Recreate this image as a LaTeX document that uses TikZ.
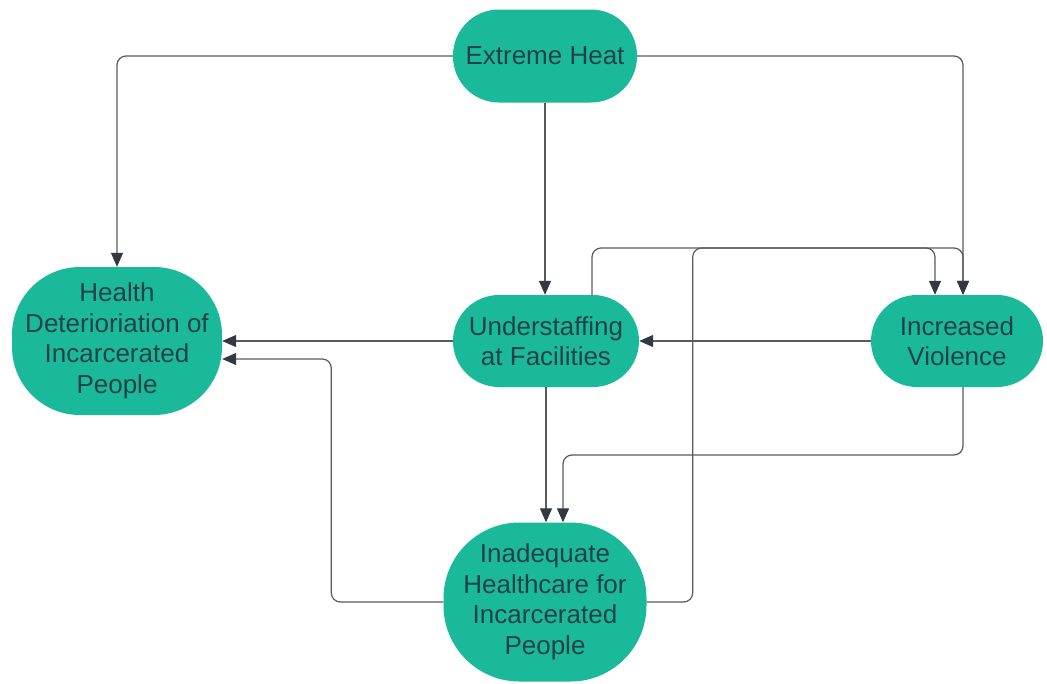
\documentclass[tikz,border=0pt]{standalone}
\usepackage{fontspec}
\setmainfont{Liberation Sans}
\usepackage{xcolor}
\usetikzlibrary{calc, arrows.meta}

\definecolor{boxfill}{RGB}{26,185,154}
\definecolor{boxtext}{RGB}{34,66,72}
\definecolor{linkgray}{RGB}{88,90,96}
\definecolor{tipgray}{RGB}{52,56,66}

\begin{document}
\begin{tikzpicture}[x=1pt, y=1pt,
		box/.style = {fill = boxfill, text = boxtext, align = center, inner sep = 0pt,
			font = \fontsize{26}{30.5}\selectfont},
		link/.style = {draw = linkgray, line width = 1.2pt, rounded corners = 9pt,
			-{Triangle[length = 14pt, width = 12pt, fill = tipgray, color = tipgray]}}]
		\useasboundingbox (0,0) rectangle (1047,-683);
		
		\def\G{18pt};
		
		\node [box, minimum width = 184pt, minimum height = 93pt, rounded corners = 46pt]
			(heat) at (545,-56) {Extreme Heat};
		\node [box, minimum width = 210pt, minimum height = 148pt, rounded corners = 68pt]
			(health) at (117,-341) {Health\\Deterioriation of\\Incarcerated\\People};
		\node [box, minimum width = 186pt, minimum height = 92pt, rounded corners = 46pt]
			(staff) at (546,-341) {Understaffing\\at Facilities};
		\node [box, minimum width = 172pt, minimum height = 92pt, rounded corners = 46pt]
			(viol) at (957,-341) {Increased\\Violence};
		\node [box, minimum width = 203pt, minimum height = 159pt, rounded corners = 76pt]
			(care) at (545,-602) {Inadequate\\Healthcare for\\Incarcerated\\People};
		
		\coordinate (toprail) at (0,-248);
		\coordinate (midrail) at (0,-455);
		
		% from extreme heat
		\draw [link] (heat.west) -| (health.north);
		\draw [link] (heat.south) -- (heat.south |- staff.north);
		\draw [link] (heat.east) -| ([xshift=6pt]viol.north);
		
		% into health deterioriation
		\draw [link] (staff.west) -- (health.east);
		\draw [link] (care.west) -- ++(-112pt,0) |- ([yshift=-\G]health.east);
		
		% into understaffing
		\draw [link] (viol.west) -- (staff.east);
		
		% into increased violence
		\draw [link] ([xshift=46pt]staff.north) |- ([xshift=-22pt]viol.north |- toprail)
			-- ([xshift=-22pt]viol.north);
		\draw [link] (care.east) -- ++(46pt,0) |- ([xshift=6pt]viol.north |- toprail)
			-- ([xshift=6pt]viol.north);
		
		% into inadequate healthcare
		\draw [link] (staff.south) -- (staff.south |- care.north);
		\draw [link] ([xshift=6pt]viol.south) |- ([xshift=\G]care.north |- midrail)
			-- ([xshift=\G]care.north);
	\end{tikzpicture}
\end{document}
